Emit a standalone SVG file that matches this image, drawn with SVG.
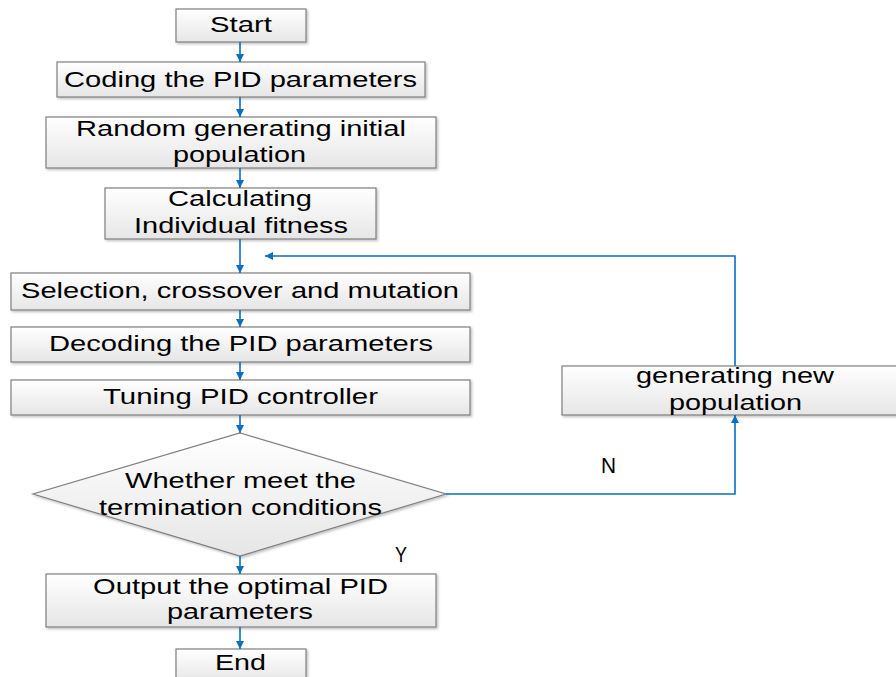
<svg xmlns="http://www.w3.org/2000/svg" width="896" height="677" viewBox="0 0 896 677">
<defs>
<linearGradient id="g" x1="0" y1="0" x2="0" y2="1">
<stop offset="0" stop-color="#ffffff"/>
<stop offset="1" stop-color="#e6e6e6"/>
</linearGradient>
<marker id="ah" markerUnits="userSpaceOnUse" markerWidth="9" markerHeight="9" refX="8" refY="4" orient="auto">
<path d="M0,0 L8,4 L0,8 z" fill="#0A6FC2"/>
</marker>
<filter id="sh" x="-5%" y="-10%" width="110%" height="130%">
<feDropShadow dx="1.5" dy="1.5" stdDeviation="1" flood-color="#000" flood-opacity="0.25"/>
</filter>
</defs>
<style>
.box{fill:url(#g);stroke:#7f7f7f;stroke-width:1.2;filter:url(#sh)}
.t{font-family:"Liberation Sans",Arial,sans-serif;font-size:22px;fill:#000}
.c{fill:none;stroke:#0A6FC2;stroke-width:1.6;marker-end:url(#ah)}
.l{fill:none;stroke:#0A6FC2;stroke-width:1.6}
</style>
<rect width="896" height="677" fill="#fff"/>
<g id="start"><rect class="box" x="176" y="9" width="130" height="33"/><text class="t" x="210" y="32" textLength="62" lengthAdjust="spacingAndGlyphs">Start</text></g>
<g id="coding"><rect class="box" x="57" y="62" width="368" height="35"/><text class="t" x="64" y="87" textLength="353" lengthAdjust="spacingAndGlyphs">Coding the PID parameters</text></g>
<g id="random"><rect class="box" x="46" y="117" width="390" height="51"/><text class="t" x="76" y="136" textLength="330" lengthAdjust="spacingAndGlyphs">Random generating initial</text><text class="t" x="173" y="162" textLength="133" lengthAdjust="spacingAndGlyphs">population</text></g>
<g id="calc"><rect class="box" x="105" y="188" width="271" height="51"/><text class="t" x="168" y="206" textLength="144" lengthAdjust="spacingAndGlyphs">Calculating</text><text class="t" x="134" y="233" textLength="214" lengthAdjust="spacingAndGlyphs">Individual fitness</text></g>
<g id="selection"><rect class="box" x="11" y="273" width="459" height="37"/><text class="t" x="21" y="298" textLength="438" lengthAdjust="spacingAndGlyphs">Selection, crossover and mutation</text></g>
<g id="decoding"><rect class="box" x="11" y="327" width="459" height="35"/><text class="t" x="49" y="351" textLength="384" lengthAdjust="spacingAndGlyphs">Decoding the PID parameters</text></g>
<g id="tuning"><rect class="box" x="11" y="380" width="459" height="35"/><text class="t" x="103" y="404" textLength="275" lengthAdjust="spacingAndGlyphs">Tuning PID controller</text></g>
<g id="decision"><polygon class="box" points="240,433 446,494 240,556 33,494"/><text class="t" x="125" y="488" textLength="231" lengthAdjust="spacingAndGlyphs">Whether meet the</text><text class="t" x="99" y="515" textLength="283" lengthAdjust="spacingAndGlyphs">termination conditions</text></g>
<g id="output"><rect class="box" x="46" y="574" width="390" height="53"/><text class="t" x="93" y="594" textLength="295" lengthAdjust="spacingAndGlyphs">Output the optimal PID</text><text class="t" x="167" y="619" textLength="146" lengthAdjust="spacingAndGlyphs">parameters</text></g>
<g id="end"><rect class="box" x="176" y="649" width="130" height="34"/><text class="t" x="215" y="670" textLength="51" lengthAdjust="spacingAndGlyphs">End</text></g>
<g id="newpop"><rect class="box" x="562" y="366" width="346" height="49"/><text class="t" x="636" y="383" textLength="198" lengthAdjust="spacingAndGlyphs">generating new</text><text class="t" x="669" y="410" textLength="133" lengthAdjust="spacingAndGlyphs">population</text></g>
<g id="connectors">
<line class="c" x1="240" y1="42" x2="240" y2="62"/>
<line class="c" x1="240" y1="97" x2="240" y2="117"/>
<line class="c" x1="240" y1="168" x2="240" y2="188"/>
<line class="c" x1="240" y1="239" x2="240" y2="273"/>
<line class="c" x1="240" y1="310" x2="240" y2="327"/>
<line class="c" x1="240" y1="362" x2="240" y2="380"/>
<line class="c" x1="240" y1="415" x2="240" y2="433"/>
<line class="c" x1="240" y1="556" x2="240" y2="574"/>
<line class="c" x1="240" y1="627" x2="240" y2="649"/>
<polyline class="c" points="446,494 735,494 735,415"/>
<polyline class="c" points="735,366 735,256 265,256"/>
<text class="t" x="395" y="562" textLength="12" lengthAdjust="spacingAndGlyphs">Y</text>
<text class="t" x="601" y="473" textLength="15" lengthAdjust="spacingAndGlyphs">N</text>
</g>
</svg>
